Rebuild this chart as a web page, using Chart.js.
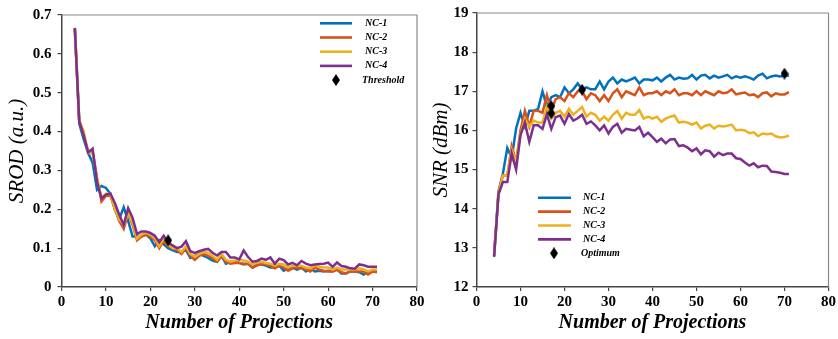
<!DOCTYPE html>
<html>
<head>
<meta charset="utf-8">
<script src="https://cdn.jsdelivr.net/npm/chart.js@4/dist/chart.umd.min.js"></script>
<style>
html,body{margin:0;padding:0;background:#fff;}
#wrap{position:relative;width:838px;height:339px;overflow:hidden;background:#fff;}
#c1{position:absolute;left:0;top:0;}
#c2{position:absolute;left:420px;top:0;}
</style>
</head>
<body>
<div id="wrap">
<canvas id="c1" width="430" height="339" style="width:430px;height:339px"></canvas>
<canvas id="c2" width="418" height="339" style="width:418px;height:339px"></canvas>
</div>
<script>
// ---------- DATA ----------
const seriesNames = ['NC-1', 'NC-2', 'NC-3', 'NC-4'];

// Left panel: SROD vs number of projections
const projLeft = [3,4,5,6,7,8,9,10,11,12,13,14,15,16,17,18,19,20,21,22,23,24,25,26,27,28,29,30,31,32,33,34,35,36,37,38,39,40,41,42,43,44,45,46,47,48,49,50,51,52,53,54,55,56,57,58,59,60,61,62,63,64,65,66,67,68,69,70,71];
const srodNC1 = [0.665,0.42,0.38,0.345,0.32,0.25,0.26,0.255,0.24,0.2,0.175,0.205,0.17,0.13,0.13,0.13,0.135,0.125,0.105,0.12,0.11,0.1,0.095,0.09,0.09,0.095,0.075,0.08,0.085,0.08,0.075,0.068,0.065,0.08,0.06,0.065,0.065,0.062,0.058,0.06,0.05,0.058,0.058,0.055,0.05,0.05,0.055,0.042,0.048,0.05,0.045,0.05,0.04,0.048,0.04,0.042,0.04,0.042,0.04,0.045,0.035,0.035,0.04,0.04,0.038,0.032,0.04,0.04,0.04];
const srodNC2 = [0.665,0.425,0.39,0.35,0.35,0.28,0.22,0.235,0.235,0.2,0.17,0.15,0.19,0.16,0.12,0.13,0.135,0.13,0.12,0.1,0.12,0.105,0.1,0.095,0.085,0.1,0.08,0.07,0.08,0.085,0.08,0.075,0.065,0.08,0.065,0.06,0.062,0.062,0.06,0.06,0.05,0.055,0.06,0.058,0.055,0.048,0.055,0.05,0.042,0.048,0.05,0.048,0.045,0.04,0.05,0.045,0.042,0.04,0.04,0.045,0.038,0.035,0.04,0.04,0.04,0.04,0.032,0.04,0.038];
const srodNC3 = [0.665,0.43,0.4,0.345,0.345,0.28,0.23,0.24,0.24,0.2,0.175,0.16,0.19,0.165,0.125,0.135,0.14,0.135,0.125,0.105,0.125,0.11,0.1,0.1,0.09,0.105,0.085,0.078,0.085,0.09,0.088,0.08,0.07,0.085,0.07,0.065,0.068,0.07,0.068,0.065,0.058,0.062,0.065,0.062,0.06,0.055,0.06,0.058,0.05,0.055,0.055,0.055,0.05,0.048,0.055,0.052,0.05,0.05,0.045,0.05,0.045,0.045,0.045,0.045,0.048,0.045,0.04,0.045,0.045];
const srodNC4 = [0.667,0.426,0.39,0.346,0.356,0.27,0.228,0.238,0.241,0.216,0.186,0.16,0.203,0.178,0.136,0.143,0.143,0.139,0.132,0.115,0.132,0.115,0.107,0.1,0.104,0.118,0.092,0.088,0.092,0.096,0.098,0.088,0.081,0.09,0.09,0.076,0.076,0.071,0.094,0.077,0.065,0.067,0.073,0.07,0.076,0.06,0.073,0.069,0.058,0.062,0.056,0.067,0.06,0.056,0.058,0.059,0.06,0.063,0.052,0.063,0.054,0.052,0.048,0.047,0.058,0.056,0.052,0.052,0.052];
const thresholdX = [24];
const thresholdY = [0.12];

// Right panel: SNR vs number of projections
const projRight = [4,5,6,7,8,9,10,11,12,13,14,15,16,17,18,19,20,21,22,23,24,25,26,27,28,29,30,31,32,33,34,35,36,37,38,39,40,41,42,43,44,45,46,47,48,49,50,51,52,53,54,55,56,57,58,59,60,61,62,63,64,65,66,67,68,69,70,71];
const snrNC1 = [12.8,14.45,14.9,15.55,15.3,16.05,16.45,16.1,16.5,16.5,16.55,17.0,16.6,16.85,16.9,16.85,17.1,16.95,17.05,17.2,17.05,17.1,17.05,17.05,17.25,17.05,17.25,17.35,17.2,17.3,17.25,17.3,17.35,17.2,17.3,17.3,17.28,17.35,17.25,17.35,17.42,17.3,17.35,17.32,17.33,17.42,17.3,17.4,17.42,17.33,17.4,17.35,17.38,17.42,17.33,17.38,17.35,17.38,17.35,17.3,17.4,17.45,17.33,17.38,17.4,17.38,17.4,17.4];
const snrNC2 = [12.8,14.4,14.85,14.85,15.6,15.2,16.0,16.5,16.1,16.5,16.5,16.45,16.9,16.5,16.8,16.85,16.75,16.95,16.85,17.0,17.0,16.8,16.95,16.9,16.75,16.9,16.75,16.95,17.05,16.85,17.0,16.95,16.9,17.1,16.9,16.95,16.95,17.0,16.9,17.0,16.95,17.05,16.9,16.95,16.95,16.9,17.0,16.9,17.0,16.95,16.9,17.0,16.95,16.97,17.05,16.92,16.95,16.97,16.9,16.92,16.85,16.95,16.97,16.87,16.95,16.92,16.92,16.98];
const snrNC3 = [12.8,14.4,14.85,14.85,15.5,15.2,15.9,16.3,16.1,16.25,16.2,16.2,16.6,16.3,16.45,16.5,16.35,16.55,16.4,16.5,16.6,16.35,16.45,16.4,16.25,16.35,16.25,16.4,16.5,16.3,16.45,16.4,16.4,16.52,16.3,16.35,16.3,16.35,16.22,16.3,16.35,16.38,16.2,16.22,16.2,16.15,16.2,16.05,16.12,16.15,16.05,16.12,16.1,16.12,16.15,16.0,16.02,16.0,15.93,15.95,15.85,15.92,15.9,15.92,15.85,15.82,15.83,15.87];
const snrNC4 = [12.77,14.37,14.68,14.68,15.41,15.0,15.88,16.2,15.71,16.13,16.13,16.04,16.41,16.04,16.34,16.38,16.17,16.42,16.25,16.31,16.4,16.17,16.23,16.13,16.0,16.13,15.92,16.09,16.17,15.94,16.04,16.02,16.0,16.09,15.85,15.94,15.83,15.71,15.79,15.67,15.77,15.78,15.6,15.62,15.56,15.47,15.54,15.39,15.49,15.47,15.33,15.43,15.37,15.41,15.41,15.29,15.27,15.18,15.1,15.16,15.06,15.1,15.09,14.95,14.94,14.92,14.89,14.89];
const optimumX = [17, 17, 24, 70];
const optimumY = [16.62, 16.44, 17.04, 17.45];

// Tick settings
const xTickMin = 0, xTickMax = 80, xTickStep = 10;
const srodMin = 0, srodMax = 0.7, srodStep = 0.1;
const snrMin = 12, snrMax = 19, snrStep = 1;

// ---------- STYLE ----------
const colors = ['#0072BD', '#D95319', '#EDB120', '#7E2F8E'];
const SERIF = '"Liberation Serif", "Times New Roman", serif';

function makeDiamond(w, h) {
  const c = document.createElement('canvas');
  c.width = w; c.height = h;
  const g = c.getContext('2d');
  g.fillStyle = '#000';
  g.beginPath();
  g.moveTo(w / 2, 0); g.lineTo(w, h / 2); g.lineTo(w / 2, h); g.lineTo(0, h / 2);
  g.closePath(); g.fill();
  return c;
}
const diamond = makeDiamond(8, 12);

function pts(xs, ys) { return xs.map((x, i) => ({ x: x, y: ys[i] })); }

function buildDatasets(xs, ysList, mx, my, markerLabel) {
  const ds = ysList.map((ys, i) => ({
    label: seriesNames[i],
    data: pts(xs, ys),
    borderColor: colors[i],
    backgroundColor: colors[i],
    borderWidth: 2.5,
    pointRadius: 0,
    tension: 0,
    order: 4 - i
  }));
  ds.push({
    label: markerLabel,
    data: pts(mx, my),
    showLine: false,
    pointStyle: diamond,
    pointRadius: 6,
    borderWidth: 0,
    backgroundColor: '#000',
    borderColor: '#000',
    order: 0
  });
  return ds;
}

const framePlugin = {
  id: 'frame',
  beforeDatasetsDraw(chart) {
    const { ctx, chartArea: a } = chart;
    ctx.save();
    ctx.strokeStyle = '#8a8a8a';
    ctx.lineWidth = 1.2;
    ctx.beginPath();
    ctx.moveTo(a.left, a.top); ctx.lineTo(a.right, a.top); ctx.lineTo(a.right, a.bottom);
    ctx.stroke();
    ctx.restore();
  },
  afterDraw(chart, args, opts) {
    if (!opts || !opts.items) return;
    const ctx = chart.ctx;
    ctx.save();
    ctx.font = 'italic bold 10px ' + SERIF;
    ctx.textBaseline = 'middle';
    ctx.fillStyle = '#000';
    const ds = chart.data.datasets;
    ds.forEach((d, i) => {
      const y = opts.y0 + i * opts.rowH;
      if (d.showLine === false) {
        ctx.drawImage(diamond, opts.markerX - diamond.width / 2, y - diamond.height / 2);
        ctx.fillText(d.label, opts.textX2, y);
      } else {
        ctx.strokeStyle = d.borderColor;
        ctx.lineWidth = 2.6;
        ctx.beginPath();
        ctx.moveTo(opts.lineX0, y); ctx.lineTo(opts.lineX1, y);
        ctx.stroke();
        ctx.fillText(d.label, opts.textX, y);
      }
    });
    ctx.restore();
  }
};

function scales(yMin, yMax, yStep, yTitle, yWidth, yTitlePad, yTickPad) {
  const tickFont = { family: SERIF, size: 15, weight: 'bold' };
  const titleFont = { family: SERIF, size: 20, weight: 'bold', style: 'italic' };
  const yTitleFont = { family: SERIF, size: 21, weight: 'normal', style: 'italic' };
  return {
    x: {
      type: 'linear', min: xTickMin, max: xTickMax,
      ticks: { stepSize: xTickStep, color: '#000', font: tickFont, padding: 2, maxRotation: 0 },
      grid: { display: true, drawOnChartArea: false, drawTicks: true, tickLength: 4, color: '#444', lineWidth: 1.2 },
      border: { display: true, color: '#444', width: 1.5 },
      title: { display: true, text: 'Number of Projections', color: '#000', font: titleFont, padding: { top: 0, bottom: 4 } },
      afterFit(s) { s.height = 52; }
    },
    y: {
      type: 'linear', min: yMin, max: yMax,
      ticks: { stepSize: yStep, color: '#000', font: tickFont, padding: yTickPad },
      grid: { display: true, drawOnChartArea: false, drawTicks: true, tickLength: 4, color: '#444', lineWidth: 1.2 },
      border: { display: true, color: '#444', width: 1.5 },
      title: { display: true, text: yTitle, color: '#000', font: yTitleFont, padding: { top: yTitlePad, bottom: 0 } },
      afterFit(s) { s.width = yWidth; }
    }
  };
}

const common = {
  responsive: false,
  animation: false,
  devicePixelRatio: 1,
  plugins: { legend: { display: false }, tooltip: { enabled: false } }
};

new Chart(document.getElementById('c1'), {
  type: 'line',
  data: { datasets: buildDatasets(projLeft, [srodNC1, srodNC2, srodNC3, srodNC4], thresholdX, thresholdY, 'Threshold') },
  options: Object.assign({}, common, {
    layout: { padding: { left: 0, top: 10, right: 13, bottom: 0 } },
    scales: scales(srodMin, srodMax, srodStep, 'SROD (a.u.)', 61.5, 5, 6),
    plugins: Object.assign({}, common.plugins, {
      frame: { items: true, y0: 23.3, rowH: 14.2, lineX0: 320, lineX1: 352, textX: 365, textX2: 362, markerX: 336 }
    })
  }),
  plugins: [framePlugin]
});

new Chart(document.getElementById('c2'), {
  type: 'line',
  data: { datasets: buildDatasets(projRight, [snrNC1, snrNC2, snrNC3, snrNC4], optimumX, optimumY, 'Optimum') },
  options: Object.assign({}, common, {
    layout: { padding: { left: 0, top: 10, right: 8, bottom: 0 } },
    scales: scales(snrMin, snrMax, snrStep, 'SNR (dBm)', 56.5, 9, 4),
    plugins: Object.assign({}, common.plugins, {
      frame: { items: true, y0: 197.7, rowH: 13.9, lineX0: 118, lineX1: 151, textX: 163, textX2: 161, markerX: 134 }
    })
  }),
  plugins: [framePlugin]
});
</script>
</body>
</html>
